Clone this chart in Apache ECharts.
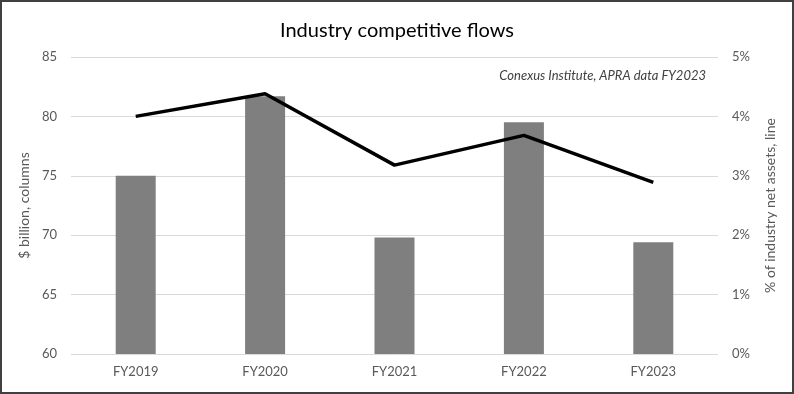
<!DOCTYPE html>
<html><head><meta charset="utf-8">
<script src="https://cdn.jsdelivr.net/npm/echarts@6/dist/echarts.min.js"></script>
<style>html,body{margin:0;padding:0;background:#fff}#c{width:794px;height:394px;box-sizing:border-box;border:2px solid #404040}</style>
</head><body><div id="c"></div>
<script>
const categories = ['FY2019','FY2020','FY2021','FY2022','FY2023'];
const flowsBillion = [75.0, 81.7, 69.8, 79.5, 69.4];
const pctOfAssets = [4.0, 4.38, 3.18, 3.68, 2.89];
const leftTicks = [60, 85, 5];
const rightTicks = [0, 5, 1];

const chart = echarts.init(document.getElementById('c'));
const font = 'Lato, "Open Sans", sans-serif';
chart.setOption({
  animation: false,
  title: {text: 'Industry competitive flows', left: 'center', top: 14,
    textStyle: {fontFamily: font, fontSize: 20, fontWeight: 'normal', color: '#000'}},
  graphic: [{type: 'text', right: 86, top: 67,
    style: {text: 'Conexus Institute, APRA data FY2023', fontFamily: font, fontStyle: 'italic', fontSize: 13, fill: '#404040'}}],
  grid: {left: 69, right: 74, top: 55, bottom: 38},
  xAxis: {type: 'category', data: categories,
    axisLine: {show: false}, axisTick: {show: false},
    axisLabel: {fontFamily: font, fontSize: 13, color: '#595959', margin: 11}},
  yAxis: [
    {type: 'value', min: leftTicks[0], max: leftTicks[1], interval: leftTicks[2],
      name: '$ billion, columns', nameLocation: 'middle', nameGap: 37,
      nameTextStyle: {fontFamily: font, fontSize: 14, color: '#595959'},
      axisLabel: {fontFamily: font, fontSize: 13, color: '#595959', margin: 14},
      splitLine: {lineStyle: {color: '#d9d9d9', width: 1}}, axisLine: {show: false}},
    {type: 'value', min: rightTicks[0], max: rightTicks[1], interval: rightTicks[2],
      name: '% of industry net assets, line', nameLocation: 'middle', nameGap: 45, nameRotate: 90,
      nameTextStyle: {fontFamily: font, fontSize: 14, color: '#595959'},
      axisLabel: {fontFamily: font, fontSize: 13, color: '#595959', margin: 14, formatter: '{value}%'},
      splitLine: {show: false}, axisLine: {show: false}}
  ],
  series: [
    {type: 'bar', data: flowsBillion, yAxisIndex: 0, barWidth: 40,
      itemStyle: {color: '#7f7f7f'}},
    {type: 'line', data: pctOfAssets, yAxisIndex: 1, symbol: 'none',
      lineStyle: {color: '#000', width: 3.5}}
  ]
});
</script></body></html>
